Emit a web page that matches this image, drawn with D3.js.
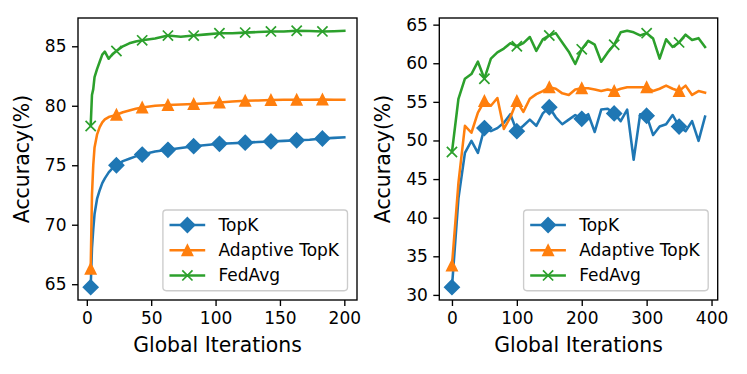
<!DOCTYPE html>
<html>
<head>
<meta charset="utf-8">
<script src="https://cdn.jsdelivr.net/npm/d3@7"></script>
<style>
  body { margin: 0; background: #fff; }
  svg { display: block; font-family: "DejaVu Sans", sans-serif; }
</style>
</head>
<body>
<div id="chart"></div>
<script>
(function () {
  "use strict";

  // left panel: iterations 3..200, markers every 20 iterations
  const LEFT_ITERS = [3, 4, 5, 6, 8, 10, 12, 14, 17, 20, 23, 28, 33, 38, 43, 53, 63, 73, 83, 93,
    103, 113, 123, 133, 143, 153, 163, 173, 183, 192, 200];
  const LEFT_TOPK = [64.75, 68.0, 69.6, 70.9, 72.2, 72.9, 73.5, 73.9, 74.4, 74.75, 75.0, 75.35, 75.55, 75.75, 75.9,
    76.15, 76.3, 76.45, 76.6, 76.7, 76.8, 76.85, 76.9, 76.95, 77.0, 77.05, 77.1, 77.15, 77.25, 77.3, 77.35];
  const LEFT_ADAPTIVE = [66.3, 72.5, 75.0, 76.5, 77.6, 78.2, 78.6, 78.85, 79.05, 79.15, 79.25, 79.45, 79.6, 79.75, 79.85,
    80.0, 80.07, 80.1, 80.15, 80.2, 80.27, 80.35, 80.42, 80.45, 80.48, 80.5, 80.5, 80.5, 80.52, 80.5, 80.5];
  const LEFT_FEDAVG = [78.3, 80.9, 81.4, 82.4, 83.1, 83.7, 84.3, 84.55, 83.95, 84.35, 84.6, 85.0, 85.25, 85.4, 85.5,
    85.65, 85.9, 85.8, 85.9, 86.0, 86.1, 86.1, 86.15, 86.2, 86.25, 86.25, 86.3, 86.28, 86.25, 86.27, 86.3];
  const LEFT_MARKS = [3, 23, 43, 63, 83, 103, 123, 143, 163, 183];
  const LEFT_XTICKS = [0, 50, 100, 150, 200];
  const LEFT_YTICKS = [65, 70, 75, 80, 85];

  // right panel: iterations 0..390 step 10, markers every 50
  const RIGHT_ITERS = [0, 10, 20, 30, 40, 50, 60, 70, 80, 90, 100, 110, 120, 130, 140, 150, 160, 170, 180, 190,
    200, 210, 220, 230, 240, 250, 260, 270, 280, 290, 300, 310, 320, 330, 340, 350, 360, 370, 380, 390];
  const RIGHT_TOPK = [31.0, 42.5, 48.4, 49.95, 48.4, 51.6, 51.2, 51.6, 52.3, 53.4, 51.2, 51.9, 52.7, 51.9, 53.5, 54.3,
    53.0, 52.1, 52.7, 53.3, 52.8, 53.4, 51.1, 54.0, 54.1, 53.5, 52.5, 54.0, 47.5, 53.4, 53.2, 50.7, 51.8, 52.1,
    53.3, 51.8, 51.2, 52.5, 49.95, 53.1];
  const RIGHT_ADAPTIVE = [33.8, 44.5, 51.9, 51.0, 53.6, 55.1, 54.5, 55.5, 51.5, 53.0, 55.1, 53.7, 55.4, 56.0, 56.4, 56.9,
    56.7, 56.1, 55.9, 56.6, 56.75, 56.75, 56.6, 56.4, 56.6, 56.4, 56.7, 56.9, 56.9, 56.9, 56.9, 56.4, 56.7, 57.1,
    56.7, 56.4, 57.1, 55.9, 56.4, 56.2];
  const RIGHT_FEDAVG = [48.5, 55.4, 58.0, 58.6, 60.2, 58.0, 60.6, 61.4, 61.9, 62.6, 62.2, 62.6, 63.4, 61.6, 63.1, 63.6,
    63.9, 62.7, 61.5, 59.9, 61.8, 62.9, 62.4, 60.2, 61.4, 62.4, 64.0, 64.2, 64.0, 63.6, 63.9, 63.2, 60.6, 63.1,
    62.1, 62.7, 63.7, 63.0, 63.25, 62.1];
  const RIGHT_MARKS = [0, 50, 100, 150, 200, 250, 300, 350];
  const RIGHT_XTICKS = [0, 100, 200, 300, 400];
  const RIGHT_YTICKS = [30, 35, 40, 45, 50, 55, 60, 65];

  const SERIES_NAMES = ["TopK", "Adaptive TopK", "FedAvg"];
  const COLORS = ["#1f77b4", "#ff7f0e", "#2ca02c"];
  const SHAPES = ["diamond", "triangle", "x"];

  const width = 747;
  const height = 374;
  const tickFont = 17;
  const labelFont = 20.4;
  const lineW = 2.55;

  function markerPath(shape) {
    if (shape === "diamond") return "M0,-7.2L7.2,0L0,7.2L-7.2,0Z";
    if (shape === "triangle") return "M0,-5.1L5.1,5.1L-5.1,5.1Z";
    return "M-5.1,-5.1L5.1,5.1M-5.1,5.1L5.1,-5.1";
  }

  // matplotlib style 5% margins
  function padded(ext) {
    const p = (ext[1] - ext[0]) * 0.05;
    return [ext[0] - p, ext[1] + p];
  }

  const svg = d3.select("#chart").append("svg")
    .attr("width", width)
    .attr("height", height);
  svg.append("rect").attr("width", width).attr("height", height).attr("fill", "#fff");

  function drawPanel(p) {
    const x = d3.scaleLinear().domain(padded(d3.extent(p.iters))).range([p.left, p.right]);
    const allY = p.series.flat();
    const y = d3.scaleLinear().domain(padded(d3.extent(allY))).range([p.bottom, p.top]);
    const g = svg.append("g");

    // clip to axes area
    const clipId = "clip-" + p.id;
    g.append("clipPath").attr("id", clipId)
      .append("rect")
      .attr("x", p.left).attr("y", p.top)
      .attr("width", p.right - p.left).attr("height", p.bottom - p.top);

    const plot = g.append("g").attr("clip-path", `url(#${clipId})`);
    const line = d3.line().x((d) => x(d[0])).y((d) => y(d[1]));

    p.series.forEach((vals, si) => {
      const pts = p.iters.map((it, i) => [it, vals[i]]);
      plot.append("path")
        .attr("d", line(pts))
        .attr("fill", "none")
        .attr("stroke", COLORS[si])
        .attr("stroke-width", lineW)
        .attr("stroke-linejoin", "round")
        .attr("stroke-linecap", "square");
      const marked = pts.filter((d) => p.marks.includes(d[0]));
      plot.selectAll(null)
        .data(marked)
        .join("path")
        .attr("transform", (d) => `translate(${x(d[0])},${y(d[1])})`)
        .attr("d", markerPath(SHAPES[si]))
        .attr("fill", SHAPES[si] === "x" ? "none" : COLORS[si])
        .attr("stroke", COLORS[si])
        .attr("stroke-width", 1.7);
    });

    // axes
    const xAxis = d3.axisBottom(x).tickValues(p.xticks).tickSize(6).tickPadding(5.5);
    const yAxis = d3.axisLeft(y).tickValues(p.yticks).tickSize(6).tickPadding(5.5);
    const gx = g.append("g").attr("transform", `translate(0,${p.bottom})`).call(xAxis);
    const gy = g.append("g").attr("transform", `translate(${p.left},0)`).call(yAxis);
    [gx, gy].forEach((a) => {
      a.select(".domain").remove();
      a.selectAll(".tick line").attr("stroke", "#000").attr("stroke-width", 1.36);
      a.selectAll(".tick text")
        .attr("fill", "#000")
        .attr("font-size", tickFont)
        .attr("font-family", "DejaVu Sans");
    });

    // frame
    g.append("rect")
      .attr("x", p.left).attr("y", p.top)
      .attr("width", p.right - p.left).attr("height", p.bottom - p.top)
      .attr("fill", "none")
      .attr("stroke", "#000")
      .attr("stroke-width", 1.36);

    // axis titles
    g.append("text")
      .attr("x", (p.left + p.right) / 2)
      .attr("y", 352)
      .attr("text-anchor", "middle")
      .attr("font-size", labelFont)
      .text("Global Iterations");
    g.append("text")
      .attr("transform", `translate(${p.ylabelX},${(p.top + p.bottom) / 2}) rotate(-90)`)
      .attr("text-anchor", "middle")
      .attr("dominant-baseline", "central")
      .attr("font-size", labelFont)
      .text("Accuracy(%)");

    // legend, lower right
    const lw = 184.6, lh = 80.7;
    const lx = p.right - 9.5 - lw;
    const ly = p.bottom - 9.3 - lh;
    const leg = g.append("g").attr("transform", `translate(${lx},${ly})`);
    leg.append("rect")
      .attr("width", lw).attr("height", lh)
      .attr("rx", 3.4)
      .attr("fill", "rgba(255,255,255,0.8)")
      .attr("stroke", "#cccccc")
      .attr("stroke-width", 1.36);
    SERIES_NAMES.forEach((name, si) => {
      const yy = 15 + si * 25.2;
      leg.append("line")
        .attr("x1", 6.6).attr("x2", 42.3)
        .attr("y1", yy).attr("y2", yy)
        .attr("stroke", COLORS[si])
        .attr("stroke-width", lineW);
      leg.append("path")
        .attr("transform", `translate(24.5,${yy})`)
        .attr("d", markerPath(SHAPES[si]))
        .attr("fill", SHAPES[si] === "x" ? "none" : COLORS[si])
        .attr("stroke", COLORS[si])
        .attr("stroke-width", 1.7);
      leg.append("text")
        .attr("x", 55.6).attr("y", yy)
        .attr("dominant-baseline", "central")
        .attr("font-size", tickFont)
        .text(name);
    });
  }

  drawPanel({
    id: "left", left: 78, right: 357, top: 18, bottom: 300, ylabelX: 22,
    iters: LEFT_ITERS, series: [LEFT_TOPK, LEFT_ADAPTIVE, LEFT_FEDAVG],
    marks: LEFT_MARKS, xticks: LEFT_XTICKS, yticks: LEFT_YTICKS
  });
  drawPanel({
    id: "right", left: 439.3, right: 717.7, top: 18, bottom: 300, ylabelX: 383,
    iters: RIGHT_ITERS, series: [RIGHT_TOPK, RIGHT_ADAPTIVE, RIGHT_FEDAVG],
    marks: RIGHT_MARKS, xticks: RIGHT_XTICKS, yticks: RIGHT_YTICKS
  });
})();
</script>
</body>
</html>
